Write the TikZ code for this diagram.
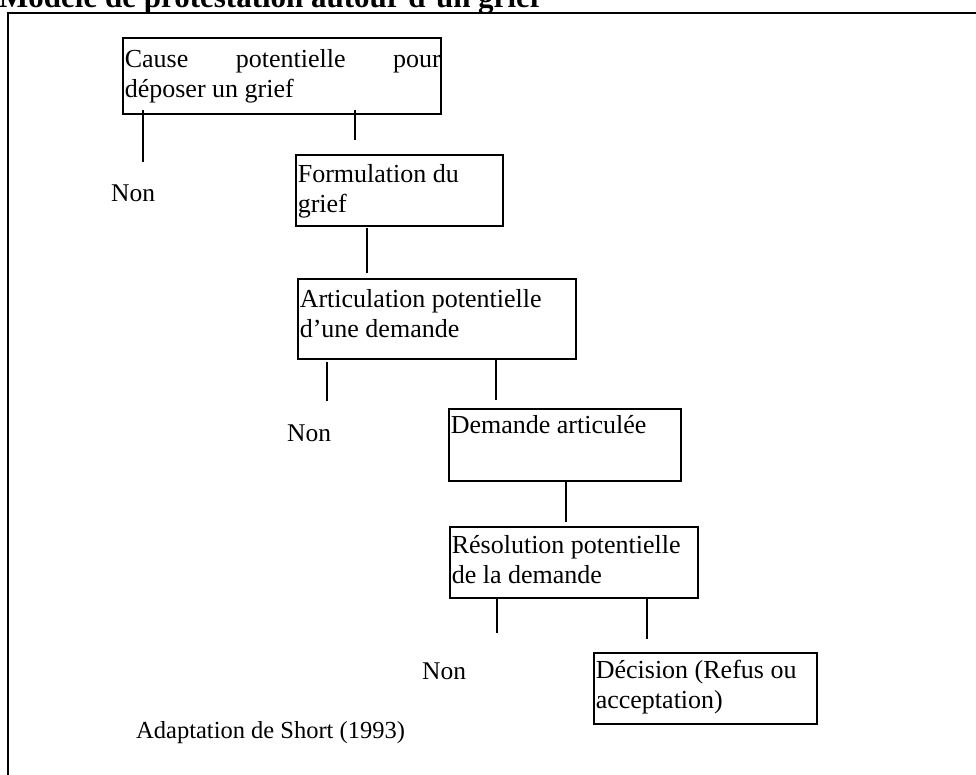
\documentclass[tikz,border=0pt]{standalone}
\usepackage{fontspec}
\setmainfont{Liberation Serif}
\newcommand{\boxcontent}[4]{\parbox[t][#2pt][t]{#1pt}{\fontsize{26}{30}\selectfont\leftskip=2pt\parindent=0pt\vspace*{#3pt}\strut #4}}
\tikzset{
  stepbox/.style={draw=black, line width=1.6pt, inner sep=0pt, anchor=north west},
  link/.style={draw=black, line width=1.5pt},
  lbl/.style={inner sep=0pt, anchor=base west, font=\fontsize{25.5}{30}\selectfont},
}
\begin{document}
\begin{tikzpicture}[x=1pt, y=-1pt]
\useasboundingbox (0,0) rectangle (976,775);
\clip (0,0) rectangle (976,775);
\fill[white] (0,0) rectangle (976,775);
% title and frame
\node[inner sep=0pt, anchor=base west, font=\fontsize{31}{36}\selectfont\bfseries] (title) at (-1,8) {Modèle de protestation autour d'un grief};
\coordinate (frTR) at (985,13);
\coordinate (frTL) at (8,13);
\coordinate (frBL) at (8,790);
\draw[line width=1.8pt] (frTR) -- (frTL) -- (frBL);
% boxes
\node[stepbox] (b1) at (122,37) {\boxcontent{318}{76}{9}{Cause\hfill potentielle\hfill pour\\déposer un grief}};
\node[stepbox] (b2) at (295,154) {\boxcontent{207}{71}{7}{Formulation du\\grief}};
\node[stepbox] (b3) at (297,278) {\boxcontent{278}{80}{8}{Articulation potentielle\\d’une demande}};
\node[stepbox] (b4) at (448,408) {\boxcontent{232}{72}{4}{Demande articulée}};
\node[stepbox] (b5) at (449,526) {\boxcontent{248}{71}{6}{Résolution potentielle\\de la demande}};
\node[stepbox] (b6) at (593,652) {\boxcontent{223}{71}{5}{Décision (Refus ou\\acceptation)}};
% labels
\node[lbl] (non1) at (111,202) {Non};
\node[lbl] (non2) at (287,441) {Non};
\node[lbl] (non3) at (422,679) {Non};
\node[lbl, font=\fontsize{24.5}{30}\selectfont] (src) at (136,738) {Adaptation de Short (1993)};
% connectors
\coordinate (l1a) at (143,110); \coordinate (l1b) at (143,162);
\coordinate (l2a) at (355,110); \coordinate (l2b) at (355,140);
\coordinate (l3a) at (367,228); \coordinate (l3b) at (367,273);
\coordinate (l4a) at (327,362); \coordinate (l4b) at (327,401);
\coordinate (l5a) at (496,360); \coordinate (l5b) at (496,400);
\coordinate (l6a) at (566,480); \coordinate (l6b) at (566,522);
\coordinate (l7a) at (497,597); \coordinate (l7b) at (497,633);
\coordinate (l8a) at (647,597); \coordinate (l8b) at (647,639);
\draw[link] (l1a) -- (l1b);
\draw[link] (l2a) -- (l2b);
\draw[link] (l3a) -- (l3b);
\draw[link] (l4a) -- (l4b);
\draw[link] (l5a) -- (l5b);
\draw[link] (l6a) -- (l6b);
\draw[link] (l7a) -- (l7b);
\draw[link] (l8a) -- (l8b);
\end{tikzpicture}
\end{document}
